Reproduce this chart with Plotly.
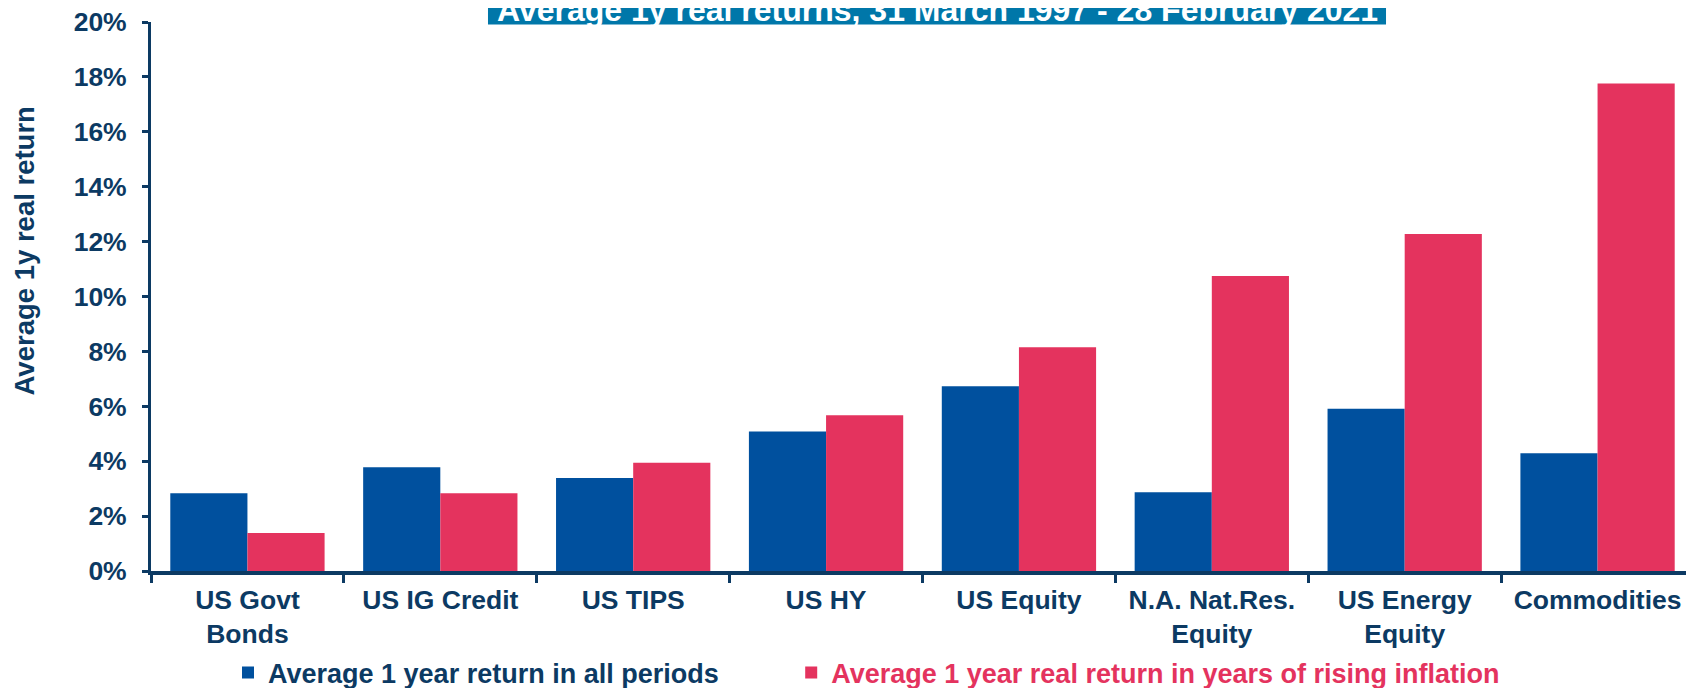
import plotly.graph_objects as go

categories = ["US Govt<br>Bonds", "US IG Credit", "US TIPS", "US HY", "US Equity",
              "N.A. Nat.Res.<br>Equity", "US Energy<br>Equity", "Commodities"]
all_periods = [2.83, 3.78, 3.39, 5.08, 6.73, 2.87, 5.91, 4.29]
rising_infl = [1.38, 2.83, 3.94, 5.67, 8.15, 10.75, 12.28, 17.76]
series_names = ["Average 1 year return in all periods",
                "Average 1 year real return in years of rising inflation"]
title_text = "Average 1y real returns, 31 March 1997 - 28 February 2021"
y_title = "Average 1y real return"

BLUE = "#00509E"
RED = "#E4335E"
NAVY = "#0C3A63"
TITLE_BG = "#0077A9"
FONT = "Liberation Sans, Arial, sans-serif"
NBSP = "&nbsp;" * 9

fig = go.Figure()
fig.add_trace(go.Bar(x=categories, y=all_periods,
                     name=f"<b>{series_names[0]}</b>{NBSP}",
                     marker=dict(color=BLUE, line=dict(width=0))))
fig.add_trace(go.Bar(x=categories, y=rising_infl,
                     name=f"<span style='color:{RED}'><b>{series_names[1]}</b></span>",
                     marker=dict(color=RED, line=dict(width=0))))

fig.update_layout(
    template="none",
    width=1694, height=688,
    margin=dict(l=143, r=8, t=14, b=125, autoexpand=False),
    paper_bgcolor="white", plot_bgcolor="white",
    barmode="group", bargap=0.2, bargroupgap=0,
    font=dict(family=FONT, size=26, color=NAVY),
    showlegend=True,
    legend=dict(orientation="h", xref="container", yref="container",
                x=220 / 1694, xanchor="left", y=23 / 688, yanchor="middle",
                font=dict(family=FONT, size=27, color=NAVY),
                itemwidth=30, bgcolor="rgba(0,0,0,0)", borderwidth=0),
    xaxis=dict(showline=True, linecolor=NAVY, linewidth=4, automargin=False,
               ticks="outside", tickson="boundaries", ticklen=8, tickwidth=3, tickcolor=NAVY,
               ticklabelstandoff=2,
               tickfont=dict(family=FONT, size=26.5, color=NAVY),
               tickprefix="<b>", ticksuffix="</b>",
               showgrid=False, zeroline=False),
    yaxis=dict(range=[0, 20], dtick=2, tickprefix="<b>", ticksuffix="%</b>",
               showline=True, linecolor=NAVY, linewidth=3, automargin=False,
               ticks="outside", ticklen=6, tickwidth=3, tickcolor=NAVY,
               ticklabelstandoff=10, ticklabeloverflow="allow",
               tickfont=dict(family=FONT, size=26.5, color=NAVY),
               showgrid=False, zeroline=False),
    shapes=[
        dict(type="rect", xref="paper", yref="paper", ysizemode="pixel", yanchor=1,
             x0=0.2184, x1=0.8004, y0=-2.5, y1=40,
             fillcolor=TITLE_BG, line=dict(width=0), layer="above"),
    ],
    annotations=[
        dict(text=f"<b>{title_text}</b>", xref="paper", yref="paper",
             x=0.5094, y=1, xanchor="center", yanchor="bottom", yshift=-7.5,
             showarrow=False, borderpad=0,
             font=dict(family=FONT, size=32, color="white")),
        dict(text=f"<b>{y_title}</b>", xref="paper", yref="paper",
             x=-0.0823, y=0.582, xanchor="center", yanchor="middle",
             textangle=-90, showarrow=False,
             font=dict(family=FONT, size=27.5, color=NAVY)),
    ],
)

fig.write_html("out.html")
